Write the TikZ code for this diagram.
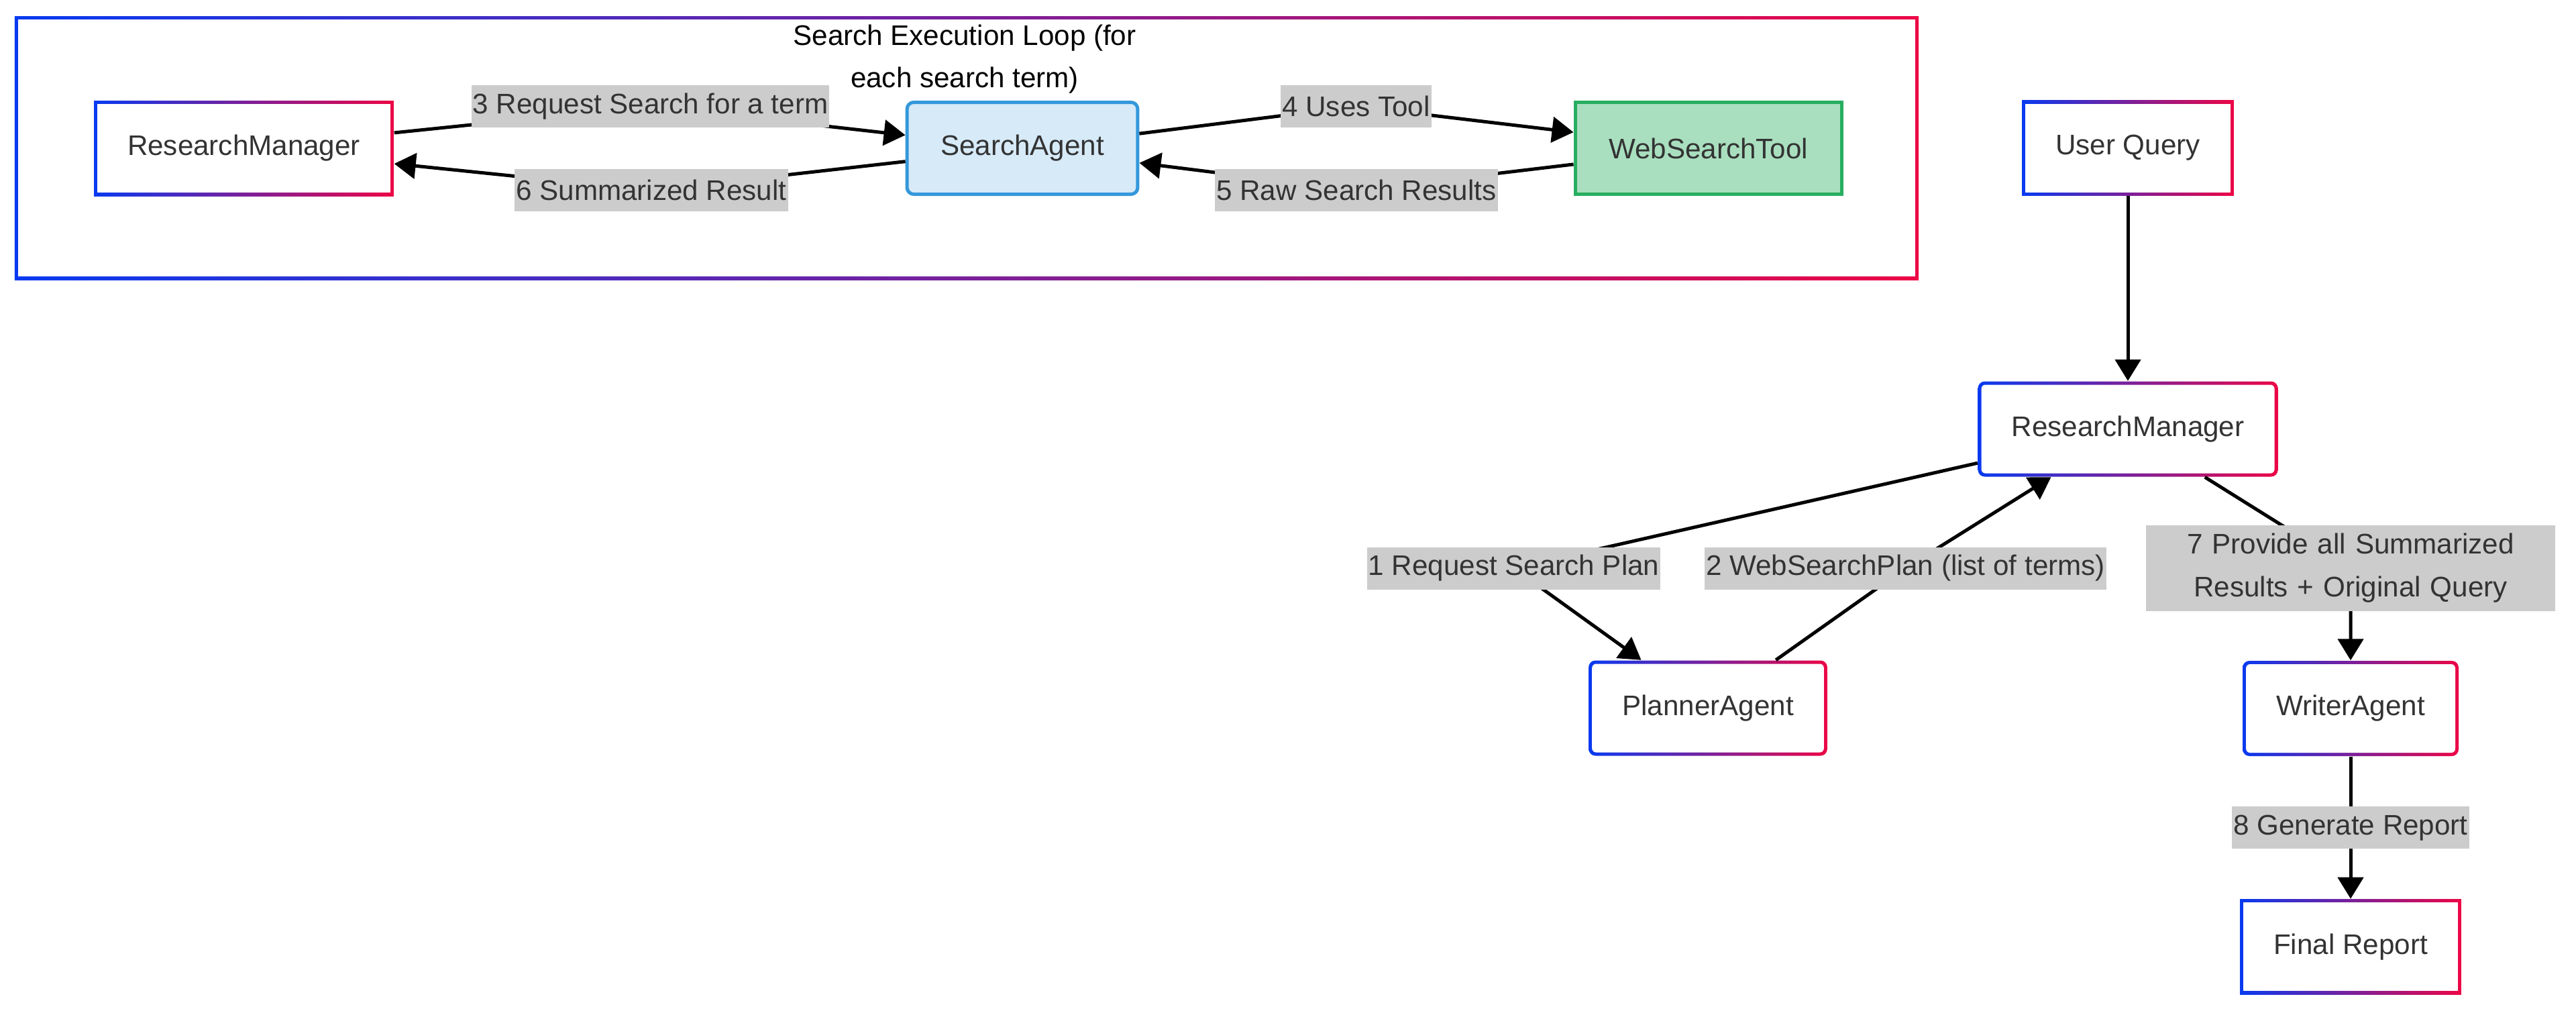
\documentclass[tikz,border=0pt]{standalone}
\usepackage{fontspec}
\setmainfont{Liberation Sans}
\usetikzlibrary{positioning,calc,arrows.meta}
\definecolor{gblue}{RGB}{8,58,240}
\definecolor{gred}{RGB}{236,6,70}
\definecolor{txtgrey}{RGB}{51,51,51}
\definecolor{lblgrey}{RGB}{204,204,204}
\definecolor{saFill}{RGB}{214,234,248}
\definecolor{saLine}{RGB}{52,152,219}
\definecolor{wstFill}{RGB}{169,223,191}
\definecolor{wstLine}{RGB}{39,174,96}

\tikzset{
  gradframe/.style={rectangle, inner xsep=0.5cm, minimum height=1.42cm,
    text=txtgrey, font=\fontsize{12}{14}\selectfont,
    path picture={
      \shade[left color=gblue, right color=gred, sharp corners]
        (path picture bounding box.south west) rectangle (path picture bounding box.north east);
      \fill[white, #1]
        ($(path picture bounding box.south west)+(0.05,0.05)$) rectangle
        ($(path picture bounding box.north east)+(-0.05,-0.05)$);
    }},
  gradbox/.style={gradframe=sharp corners},
  gradround/.style={gradframe={rounded corners=0.06cm}, rounded corners=0.1cm},
  agentbox/.style={rectangle, rounded corners=0.1cm, line width=0.05cm,
    inner xsep=0.5cm, minimum height=1.37cm, text=txtgrey,
    font=\fontsize{12}{14}\selectfont},
  elabel/.style={fill=lblgrey, text=txtgrey, inner xsep=0.02cm, inner ysep=0cm,
    minimum height=0.63cm, font=\fontsize{12}{14}\selectfont},
  flow/.style={->, line width=0.05cm}
}

\begin{document}
\begin{tikzpicture}[>={Triangle[length=0.32cm,width=0.38cm]}]
  \useasboundingbox (0,0) rectangle (38.4,-15.06);

  % the search loop
  \node[gradbox, minimum width=28.38cm, minimum height=3.93cm, inner sep=0cm] (loop) at (14.41,-2.205) {};
  \node[align=center, font=\fontsize{12}{17.9}\selectfont] (looptitle) at (14.38,-0.885)
    {Search Execution Loop (for\\each search term)};

  % the agents in the loop
  \node[gradbox] (rm1) at (3.635,-2.21) {ResearchManager};
  \node[agentbox, fill=saFill, draw=saLine] (sa) at (15.24,-2.21) {SearchAgent};
  \node[agentbox, sharp corners, fill=wstFill, draw=wstLine] (wst) at (25.465,-2.21) {WebSearchTool};

  % the main flow
  \node[gradbox] (uq) at (31.72,-2.205) {User Query};
  \node[gradround] (rm2) at (31.72,-6.395) {ResearchManager};
  \node[gradround] (pa) at (25.46,-10.555) {PlannerAgent};
  \node[gradround] (wa) at (35.04,-10.56) {WriterAgent};
  \node[gradbox] (fr) [below=2.12cm of wa] {Final Report};

  % the label points
  \coordinate (c3) at (9.695,-1.585);
  \coordinate (c6) at (9.71,-2.835);
  \coordinate (c4) at (20.215,-1.585);
  \coordinate (c5) at (20.22,-2.835);
  \coordinate (c1) at (22.565,-8.47);
  \coordinate (c2) at (28.405,-8.47);
  \coordinate (c7) at (35.04,-8.47);

  % the edges
  \draw[flow] (uq) -- (rm2);
  \draw[flow] (rm2) -- (c1) node[elabel] (l1) {1 Request Search Plan} -- (pa);
  \draw[flow] (pa) -- (c2) node[elabel] (l2) {2 WebSearchPlan (list of terms)} -- (rm2);
  \draw[flow] (rm1) -- (c3) node[elabel] (l3) {3 Request Search for a term} -- (sa);
  \draw[flow] (sa) -- (c4) node[elabel] (l4) {4 Uses Tool} -- (wst);
  \draw[flow] (wst) -- (c5) node[elabel] (l5) {5 Raw Search Results} -- (sa);
  \draw[flow] (sa) -- (c6) node[elabel] (l6) {6 Summarized Result} -- (rm1);
  \draw[flow] (rm2) -- (c7) node[elabel, text width=5.9cm, align=center, inner xsep=0.1cm,
    font=\fontsize{12}{18.2}\selectfont, minimum height=1.28cm] (l7)
    {7 Provide all Summarized Results + Original Query} -- (wa);
  \draw[flow] (wa) -- node[elabel] (l8) {8 Generate Report} (fr);
\end{tikzpicture}
\end{document}
